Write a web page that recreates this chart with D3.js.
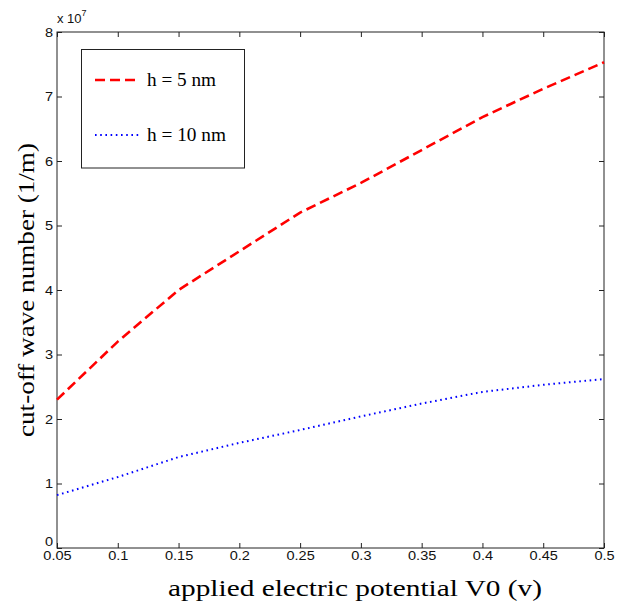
<!DOCTYPE html>
<html>
<head>
<meta charset="utf-8">
<script src="https://cdn.jsdelivr.net/npm/d3@7"></script>
<style>
  html, body { margin: 0; padding: 0; background: #fff; }
  svg { display: block; }
</style>
</head>
<body>
<svg id="chart" width="621" height="604"></svg>
<script>
// ---- data (values in units of 1e7 1/m) ----
const voltages = [0.05, 0.10, 0.15, 0.20, 0.25, 0.30, 0.35, 0.40, 0.45, 0.50];
const h5nm  = [2.30, 3.20, 4.00, 4.60, 5.20, 5.66, 6.17, 6.68, 7.12, 7.53];
const h10nm = [0.82, 1.10, 1.41, 1.63, 1.83, 2.04, 2.24, 2.42, 2.53, 2.62];
const seriesNames = ["h = 5 nm", "h = 10 nm"];
const xTicks = [0.05, 0.1, 0.15, 0.2, 0.25, 0.3, 0.35, 0.4, 0.45, 0.5];
const yTicks = [0, 1, 2, 3, 4, 5, 6, 7, 8];
const xLabel = "applied electric potential V0 (v)";
const yLabel = "cut-off wave number (1/m)";

const svg = d3.select("#chart");
const L = 57, R = 604, T = 32, B = 548;
const x = d3.scaleLinear().domain([0.05, 0.5]).range([L, R]);
const y = d3.scaleLinear().domain([0, 8]).range([B, T]);

const axisColor = "#222";
const tickFont = "'Liberation Sans', Arial, sans-serif";
const serif = "'Liberation Serif', 'Times New Roman', serif";

// frame
svg.append("rect").attr("x", L).attr("y", T).attr("width", R - L).attr("height", B - T)
  .attr("fill", "none").attr("stroke", axisColor).attr("stroke-width", 1);

function styleAxis(g) {
  g.select(".domain").remove();
  g.selectAll("line").attr("stroke", axisColor);
  g.selectAll("text").attr("font-family", tickFont).attr("font-size", 13).attr("fill", "#111")
    .attr("transform", "scale(1.12,1)");
}

// bottom axis
const xFmt = d => String(+d.toFixed(2));
svg.append("g").attr("transform", `translate(0,${B})`)
  .call(d3.axisBottom(x).tickValues(xTicks).tickFormat(xFmt).tickSizeInner(-5).tickSizeOuter(0).tickPadding(3))
  .call(styleAxis);
// top axis (ticks only)
svg.append("g").attr("transform", `translate(0,${T})`)
  .call(d3.axisTop(x).tickValues(xTicks).tickFormat("").tickSizeInner(-5).tickSizeOuter(0))
  .call(styleAxis);
// left axis
const gy = svg.append("g").attr("transform", `translate(${L},0)`)
  .call(d3.axisLeft(y).tickValues(yTicks).tickFormat(d3.format("d")).tickSizeInner(-5).tickSizeOuter(0).tickPadding(3.5))
  .call(styleAxis);
gy.selectAll(".tick").filter(d => d === 0).select("text").attr("dy", "-0.2em");
// right axis (ticks only)
svg.append("g").attr("transform", `translate(${R},0)`)
  .call(d3.axisRight(y).tickValues(yTicks).tickFormat("").tickSizeInner(-5).tickSizeOuter(0))
  .call(styleAxis);

// exponent label
const ex = svg.append("text").attr("x", 57).attr("y", 23)
  .attr("font-family", tickFont).attr("font-size", 13).attr("fill", "#111");
ex.append("tspan").text("x 10");
ex.append("tspan").attr("dy", -7).attr("font-size", 9).text("7");

// axis labels
svg.append("text").attr("x", 355).attr("y", 596).attr("text-anchor", "middle")
  .attr("font-family", serif).attr("font-size", 23).attr("fill", "#000")
  .attr("textLength", 374).attr("lengthAdjust", "spacingAndGlyphs").text(xLabel);
svg.append("text").attr("transform", `translate(34,290) rotate(-90)`)
  .attr("text-anchor", "middle")
  .attr("font-family", serif).attr("font-size", 23).attr("fill", "#000")
  .attr("textLength", 294).attr("lengthAdjust", "spacingAndGlyphs").text(yLabel);

// lines
const line = d3.line().x((d, i) => x(voltages[i])).y(d => y(d));
const styles = [
  { color: "#ff0000", width: 2.6, dash: "10,5" },
  { color: "#0000ff", width: 2, dash: "1.6,3.6" }
];
[h5nm, h10nm].forEach((s, k) => {
  svg.append("path").datum(s).attr("d", line)
    .attr("fill", "none").attr("stroke", styles[k].color)
    .attr("stroke-width", styles[k].width).attr("stroke-dasharray", styles[k].dash);
});

// legend
svg.append("rect").attr("x", 81.5).attr("y", 49.5).attr("width", 163).attr("height", 118.5)
  .attr("fill", "#fff").attr("stroke", axisColor).attr("stroke-width", 1);
const legY = [80, 135];
const legLen = [69, 79];
seriesNames.forEach((name, k) => {
  svg.append("line").attr("x1", 95).attr("x2", 140).attr("y1", legY[k]).attr("y2", legY[k])
    .attr("stroke", styles[k].color).attr("stroke-width", styles[k].width)
    .attr("stroke-dasharray", styles[k].dash);
  svg.append("text").attr("x", 147).attr("y", legY[k] + 6)
    .attr("font-family", serif).attr("font-size", 18).attr("fill", "#000")
    .attr("textLength", legLen[k]).attr("lengthAdjust", "spacingAndGlyphs").text(name);
});
</script>
</body>
</html>
